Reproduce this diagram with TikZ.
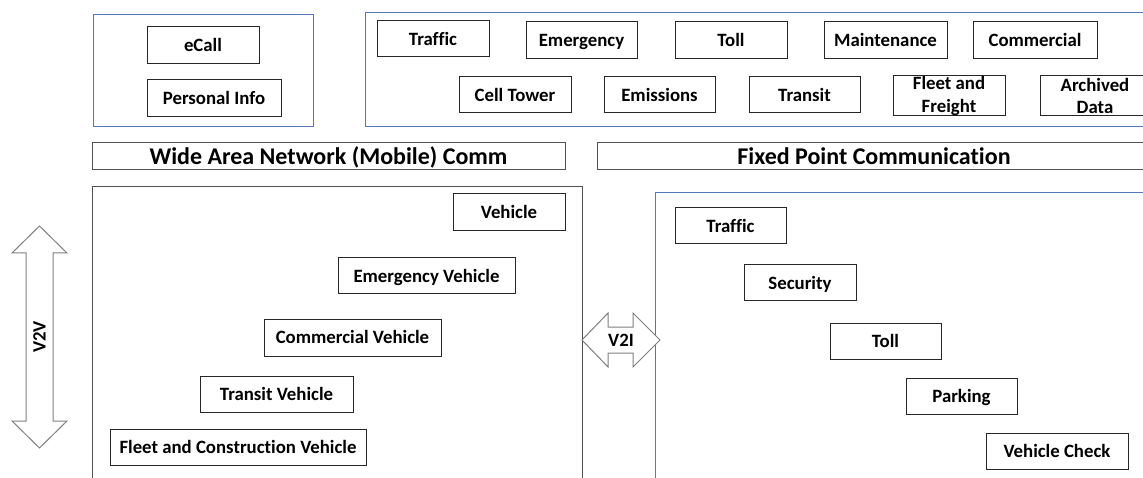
\documentclass[tikz,border=0pt]{standalone}
\usepackage{fontspec}
\setmainfont{Carlito}[Ligatures=NoCommon]
\definecolor{bluebd}{RGB}{84,118,186}
\definecolor{graybd}{RGB}{80,80,80}
\definecolor{arrbd}{RGB}{128,128,128}
\begin{document}
\begin{tikzpicture}[x=1pt,y=-1pt,
  box/.style={draw=black!85,line width=1pt,inner sep=0pt,font=\fontsize{18.8}{20}\selectfont\bfseries,align=center,text height=12.1pt,text depth=0pt},
  box2/.style={draw=black!85,line width=1pt,inner sep=0pt,font=\fontsize{18.8}{22.5}\selectfont\bfseries,align=center},
  hdr/.style={draw=graybd,line width=1pt,inner sep=0pt,font=\fontsize{24}{26}\selectfont\bfseries,text height=15.5pt,text depth=0pt},
  lbl/.style={font=\fontsize{18.8}{20}\selectfont\bfseries,inner sep=0pt,text height=12.1pt,text depth=0pt},
  cont/.style={draw=bluebd,line width=1pt},
  gcont/.style={draw=graybd,line width=1pt},
  darrow/.style={draw=arrbd,fill=white,line width=1pt,line join=miter}]
\clip (0,0) rectangle (1143,478);
\fill[white] (0,0) rectangle (1143,478);
% containers
\draw[cont] (93,15) rectangle (313,127);
\draw[cont] (365,13) rectangle (1152,127);
\draw[gcont] (92,187) rectangle (582,490);
\draw[cont] (655,193) rectangle (1152,490);
% top-left
\node[box,minimum width=112,minimum height=37] (ecall) at (203,45.5) {eCall};
\node[box,minimum width=134,minimum height=37] (pinfo) at (214,98.5) {Personal Info};
% top-right row 1
\node[box,minimum width=112,minimum height=36] (traffic) at (433,39) {Traffic};
\node[box,minimum width=111,minimum height=37] (emerg) at (581.5,40.5) {Emergency};
\node[box,minimum width=112,minimum height=37] (toll) at (731,40.5) {Toll};
\node[box,minimum width=123,minimum height=37] (maint) at (885.5,40.5) {Maintenance};
\node[box,minimum width=124,minimum height=37] (comm) at (1035,40.5) {Commercial};
% row 2
\node[box,minimum width=112,minimum height=36] (cell) at (515,95) {Cell Tower};
\node[box,minimum width=111,minimum height=36] (emis) at (659.5,95) {Emissions};
\node[box,minimum width=111,minimum height=36] (transit) at (804.5,95) {Transit};
\node[box2,minimum width=112,minimum height=40] (fleet) at (949,96) {Fleet and\\Freight};
\node[box2,minimum width=110,minimum height=40] (arch) at (1095,96) {Archived\\Data};
% headers
\node[hdr,minimum width=473,minimum height=27] (wan) at (328.5,156.5) {Wide Area Network (Mobile) Comm};
\node[hdr,minimum width=554,minimum height=27] (fixed) at (874,156.5) {Fixed Point Communication};
% vehicles
\node[box,minimum width=112,minimum height=37] (veh) at (509,212.5) {Vehicle};
\node[box,minimum width=177,minimum height=36] (eveh) at (426.5,276) {Emergency Vehicle};
\node[box,minimum width=177,minimum height=37] (cveh) at (352.5,337.5) {Commercial Vehicle};
\node[box,minimum width=153,minimum height=36] (tveh) at (276.5,394) {Transit Vehicle};
\node[box,minimum width=256,minimum height=36] (fveh) at (238,447) {Fleet and Construction Vehicle};
% infrastructure
\node[box,minimum width=111,minimum height=36] (traffic2) at (730.5,226) {Traffic};
\node[box,minimum width=112,minimum height=36] (sec) at (800,283) {Security};
\node[box,minimum width=111,minimum height=36] (toll2) at (885.5,341) {Toll};
\node[box,minimum width=111,minimum height=36] (park) at (961.5,396) {Parking};
\node[box,minimum width=142,minimum height=36] (vcheck) at (1057,451) {Vehicle Check};
% V2V arrow
\draw[darrow] (39.5,226) -- (67,253) -- (53,253) -- (53,421) -- (67,421) -- (39.5,448)
  -- (12,421) -- (26,421) -- (26,253) -- (12,253) -- cycle;
\node[lbl,rotate=90] (v2v) at (39.5,337) {V2V};
% V2I arrow
\draw[darrow] (582,340) -- (608,313) -- (608,327) -- (633,327) -- (633,313) -- (660,340)
  -- (633,367) -- (633,353) -- (608,353) -- (608,367) -- cycle;
\node[lbl] (v2i) at (621,340) {V2I};
\end{tikzpicture}
\end{document}
